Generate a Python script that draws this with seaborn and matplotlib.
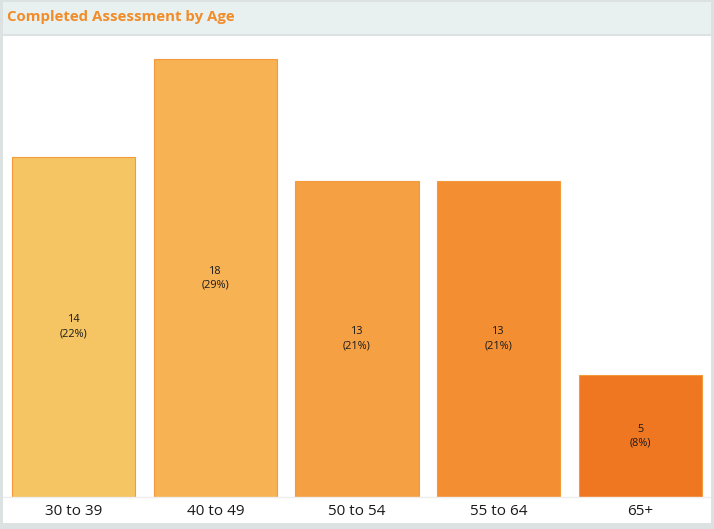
import matplotlib
matplotlib.use("Agg")
import matplotlib.pyplot as plt
from matplotlib.patches import Rectangle
import seaborn as sns
import pandas as pd

age_groups = ["30 to 39", "40 to 49", "50 to 54", "55 to 64", "65+"]
counts = [14, 18, 13, 13, 5]
percents = [22, 29, 21, 21, 8]
bar_colors = ["#F5C563", "#F7B253", "#F6A044", "#F38F32", "#F07721"]

df = pd.DataFrame({"age": age_groups, "count": counts})

sns.set_theme(style="white")
plt.rcParams["font.family"] = ["Open Sans", "DejaVu Sans"]

W, H = 714, 529
fig = plt.figure(figsize=(W / 100, H / 100), dpi=100)
fig.patch.set_facecolor("white")

# header band and frame
fig.patches.append(Rectangle((0, 1 - 35 / H), 1, 35 / H, transform=fig.transFigure,
                             facecolor="#E8F1F0", edgecolor="none", zorder=0))
fig.patches.append(Rectangle((0, 1 - 36 / H), 1, 2 / H, transform=fig.transFigure,
                             facecolor="#DCE2E2", edgecolor="none", zorder=1))
fig.patches.append(Rectangle((0, 1 - 1.5 / H), 1, 1.5 / H, transform=fig.transFigure,
                             facecolor="#DCE2E2", edgecolor="none", zorder=1))
fig.patches.append(Rectangle((0, 0), 3 / W, 1, transform=fig.transFigure,
                             facecolor="#DCE2E2", edgecolor="none", zorder=1))
fig.patches.append(Rectangle((1 - 3 / W, 0), 3 / W, 1, transform=fig.transFigure,
                             facecolor="#DCE2E2", edgecolor="none", zorder=1))
fig.patches.append(Rectangle((0, 0), 1, 6 / H, transform=fig.transFigure,
                             facecolor="#DCE2E2", edgecolor="none", zorder=1))

fig.text(7 / W, 1 - 17 / H, "Completed Assessment by Age", color="#F28C28",
         fontsize=10.8, fontweight="bold", va="center", ha="left")

ax = fig.add_axes([3 / W, 1 - 497 / H, 708 / W, 462 / H])
ax.set_facecolor("none")
sns.barplot(data=df, x="age", y="count", hue="age", palette=bar_colors,
            saturation=1, legend=False, width=0.87, ax=ax,
            edgecolor="#F39A3A", linewidth=0.8)

for i, (c, p) in enumerate(zip(counts, percents)):
    ax.text(i, c / 2, f"{c}\n({p}%)", ha="center", va="center",
            fontsize=7.8, color="#1A1A1A", linespacing=1.4)

ax.set_ylim(0, 19)
ax.set_xlim(-0.5, 4.5)
ax.set_xlabel("")
ax.set_ylabel("")
ax.set_yticks([])
ax.tick_params(axis="x", length=0, labelsize=11, colors="#1A1A1A", pad=5)
for s in ["top", "left", "right"]:
    ax.spines[s].set_visible(False)
ax.spines["bottom"].set_color("#EEEEEE")
ax.spines["bottom"].set_linewidth(1)

fig.savefig("out.png", dpi=100)
